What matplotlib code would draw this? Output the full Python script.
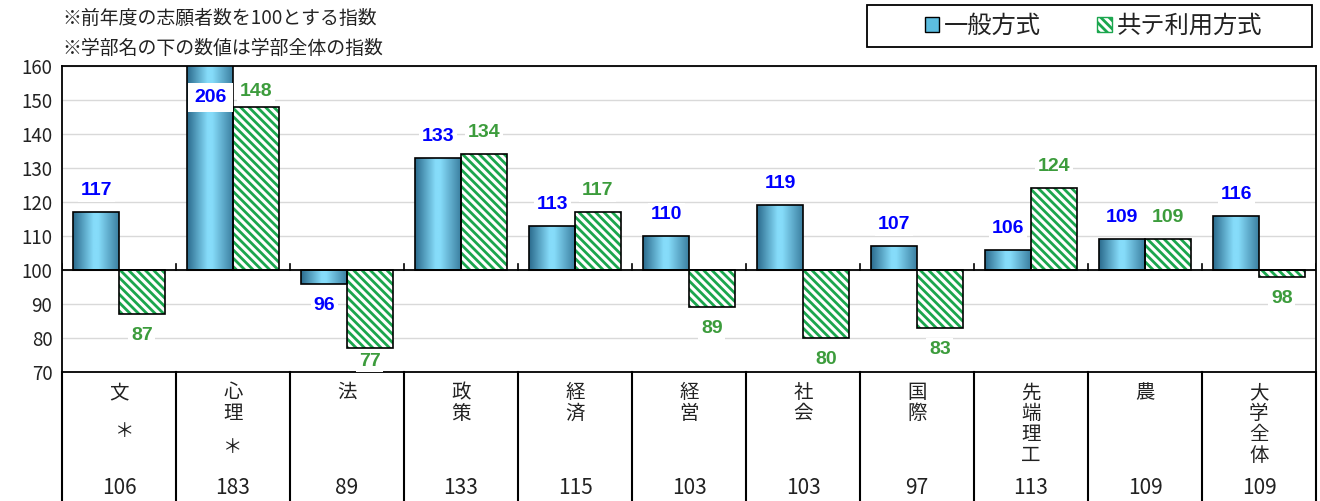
import numpy as np
import matplotlib
matplotlib.use("Agg")
import matplotlib.pyplot as plt
from matplotlib.patches import Rectangle, Patch
from matplotlib.lines import Line2D
from matplotlib.colors import LinearSegmentedColormap

plt.rcParams['font.family'] = ['Noto Sans CJK JP', 'DejaVu Sans']
plt.rcParams['hatch.linewidth'] = 2.0

categories = ["文", "心理", "法", "政策", "経済", "経営", "社会", "国際", "先端理工", "農", "大学全体"]
general = [117, 206, 96, 133, 113, 110, 119, 107, 106, 109, 116]
kyote = [87, 148, 77, 134, 117, 89, 80, 83, 124, 109, 98]
overall = [106, 183, 89, 133, 115, 103, 103, 97, 113, 109, 109]
starred = ["文", "心理"]
series_names = ["一般方式", "共テ利用方式"]
notes = ["※前年度の志願者数を100とする指数", "※学部名の下の数値は学部全体の指数"]

BASE = 100
YMIN, YMAX = 70, 160
BLUE_TXT = "#0000ff"
GREEN_TXT = "#3c9c3c"
HATCH_GREEN = "#1ba64e"
TXT = "#222222"
HATCH = '\\\\\\\\'

W, H = 1320, 501
fig = plt.figure(figsize=(W / 100, H / 100), dpi=100)
ax = fig.add_axes([62 / W, 1 - 372 / H, 1254 / W, 306 / H])

n = len(categories)
x = np.arange(n)
bw = 0.4

ax.set_xlim(-0.5, n - 0.5)
ax.set_ylim(YMIN, YMAX)
ax.set_yticks(np.arange(YMIN, YMAX + 1, 10))
ax.tick_params(axis='y', length=0, labelsize=13.5, pad=7, labelcolor=TXT)
ax.set_xticks([])
ax.grid(axis='y', color='#d9d9d9', lw=1)
ax.set_axisbelow(True)
for s in ax.spines.values():
    s.set_color('black')
    s.set_linewidth(1.3)

cmap = LinearSegmentedColormap.from_list(
    "blue", [(0, "#2a6a8c"), (0.45, "#86dcfa"), (0.55, "#86dcfa"), (1, "#3b7fa0")])
grad = np.linspace(0, 1, 256).reshape(1, -1)

# general bars with gradient
for xi, v in zip(x, general):
    left = xi - bw
    lo = min(BASE, v)
    hi = min(max(BASE, v), YMAX)
    rect = Rectangle((left, lo), bw, hi - lo, facecolor='none',
                     edgecolor='black', lw=1.2, zorder=4)
    ax.add_patch(rect)
    im = ax.imshow(grad, cmap=cmap, aspect='auto',
                   extent=(left, left + bw, lo, hi), zorder=3)
    im.set_clip_path(rect)

# kyote bars with hatch
for xi, v in zip(x, kyote):
    ax.bar(xi + bw / 2, v - BASE, bw, bottom=BASE, facecolor='white',
           edgecolor=HATCH_GREEN, hatch=HATCH, lw=0, zorder=3)
    ax.bar(xi + bw / 2, v - BASE, bw, bottom=BASE, fill=False,
           edgecolor='black', lw=1.2, zorder=4)

ax.set_xlim(-0.5, n - 0.5)
ax.set_ylim(YMIN, YMAX)

# base line at 100 and ticks at category boundaries
ax.axhline(BASE, color='black', lw=1.3, zorder=5)
for b in np.arange(n + 1) - 0.5:
    ax.plot([b, b], [BASE, BASE + 1.8], color='black', lw=1.2, zorder=5, clip_on=True)

# value labels
def label_y(v):
    if v > YMAX:
        return YMAX - 9.3
    if v >= BASE:
        return min(v + 6.3, YMAX - 7.4)
    return max(v - 6.3, YMIN + 3.2)

for xi, v in zip(x, general):
    pad = 4.5 if v > YMAX else 2
    ax.text(xi - bw / 2, label_y(v), str(v), color=BLUE_TXT, fontsize=14,
            fontweight='bold', ha='center', va='center',
            bbox=dict(facecolor='white', edgecolor='none', pad=pad), zorder=6,
            family=['Liberation Sans', 'DejaVu Sans'])
for xi, v in zip(x, kyote):
    ax.text(xi + bw / 2, label_y(v), str(v), color=GREEN_TXT, fontsize=14,
            fontweight='bold', ha='center', va='center',
            bbox=dict(facecolor='white', edgecolor='none', pad=2), zorder=6,
            family=['Liberation Sans', 'DejaVu Sans'])

# table below
trans = ax.get_xaxis_transform()
bottom_frac = -(H - 372 + 5) / 306
for b in np.arange(n + 1) - 0.5:
    ax.add_line(Line2D([b, b], [0, bottom_frac], transform=trans, color='black',
                       lw=1.5, clip_on=False))
for xi, name, val in zip(x, categories, overall):
    ax.text(xi, -0.033, "\n".join(name), transform=trans, ha='center', va='top',
            fontsize=14, linespacing=1.0, color=TXT)
    if name in starred:
        ny = -0.196 if len(name) == 1 else -0.248
        nx = xi + 0.05 if len(name) == 1 else xi
        ax.text(nx, ny, "＊", transform=trans, ha='center', va='center',
                fontsize=14, color=TXT)
    ax.text(xi, -0.379, str(val), transform=trans, ha='center', va='center',
            fontsize=15, color=TXT)

# notes
fig.text(62 / W, 1 - 18 / H, notes[0], fontsize=13.6, va='center', ha='left', color=TXT)
fig.text(62 / W, 1 - 48 / H, notes[1], fontsize=13.6, va='center', ha='left', color=TXT)

# legend
fig.add_artist(Rectangle((867 / W, 1 - 47 / H), 445 / W, 42 / H, transform=fig.transFigure,
                         facecolor='white', edgecolor='black', lw=1.3))
handles = [Patch(facecolor='#5cbde0', edgecolor='black', lw=1),
           Patch(facecolor='white', edgecolor=HATCH_GREEN, hatch=HATCH, lw=1)]
leg = fig.legend(handles, series_names, loc='center',
                 bbox_to_anchor=(1093.5 / W, 1 - 26 / H), ncol=2,
                 frameon=False, fontsize=17.5, handlelength=0.6, handleheight=0.6,
                 handletextpad=0.2, columnspacing=2.3, labelcolor=TXT)

fig.savefig("out.png", dpi=100)
